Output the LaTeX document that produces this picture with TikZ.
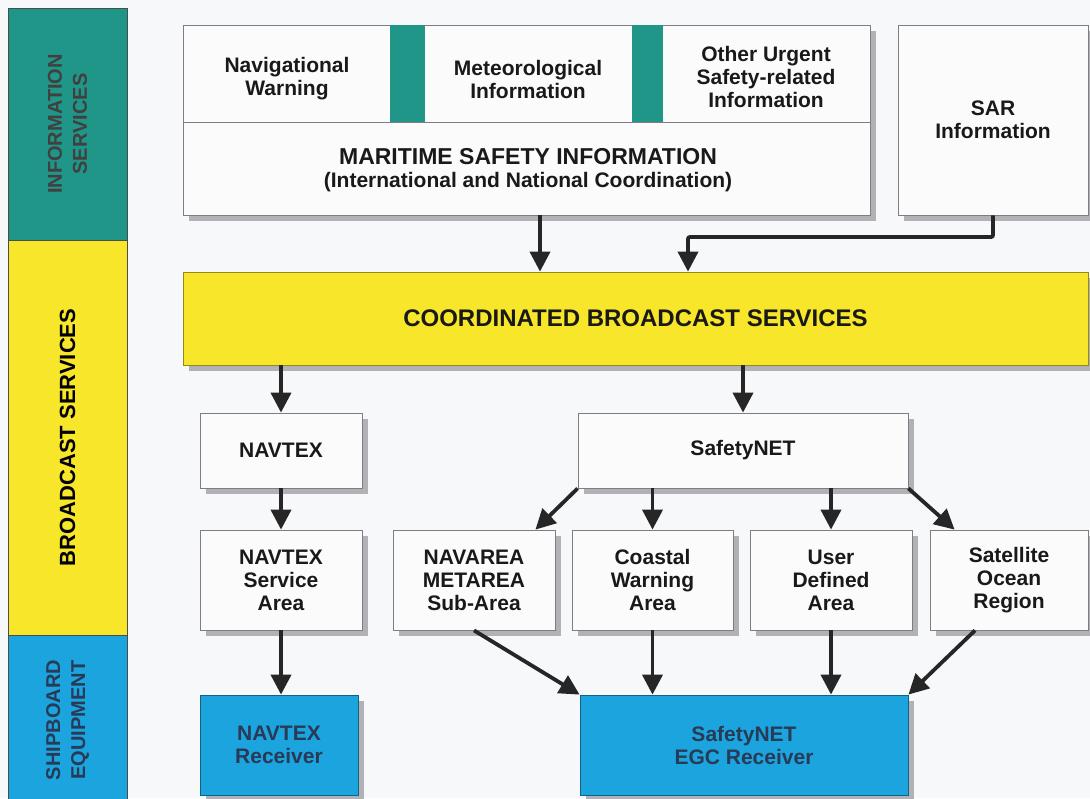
\documentclass[tikz,border=0pt]{standalone}
\usepackage{fontspec}
\setmainfont{Liberation Sans}
\usetikzlibrary{arrows.meta,shadows}

\definecolor{infoteal}{RGB}{32,150,136}
\definecolor{bcyellow}{RGB}{247,230,42}
\definecolor{shipblue}{RGB}{28,164,222}
\definecolor{boxline}{RGB}{125,125,130}
\definecolor{shadegray}{RGB}{178,178,182}
\definecolor{paper}{RGB}{246,248,250}
\definecolor{boxfill}{RGB}{251,251,252}
\definecolor{rxtext}{RGB}{40,58,85}

\tikzset{
  boxsize/.style 2 args={minimum width=#1*0.5pt, minimum height=#2*0.5pt},
  lbl/.style={font=\bfseries\fontsize{10.5}{11.5}\selectfont, align=center, text=black!90},
  box/.style={lbl, draw=boxline, fill=boxfill, inner sep=0pt,
    drop shadow={shadow xshift=3pt, shadow yshift=-3pt, fill=shadegray, opacity=1}},
  rxbox/.style={box, fill=shipblue, draw=shipblue!60!black, text=rxtext},
  band/.style={draw=black!70, inner sep=0pt},
  bandlbl/.style={rotate=90, align=center, font=\bfseries\fontsize{10}{12.5}\selectfont},
  arr/.style={line width=1.9pt, draw=black!85, -{Triangle[length=10pt,width=10pt]}}
}

\begin{document}
\begin{tikzpicture}[x=0.5pt, y=-0.5pt]
  \useasboundingbox[fill=paper] (0,0) rectangle (1090,798);

  % left bands
  \node[band, fill=infoteal, boxsize={119}{232}] (infoband) at (67.5,124) {};
  \node[band, fill=bcyellow, boxsize={119}{395}] (bcband) at (67.5,437.5) {};
  \node[band, fill=shipblue, boxsize={119}{170}] (shipband) at (67.5,720) {};
  \node[bandlbl, text=black!75] at (infoband) {INFORMATION\\SERVICES};
  \node[bandlbl, font=\bfseries\fontsize{11}{13}\selectfont] at (bcband) {BROADCAST SERVICES};
  \node[bandlbl, text=rxtext] at (shipband) {SHIPBOARD\\EQUIPMENT};

  % information services
  \node[box, boxsize={687}{190}] (msi) at (526.5,120) {};
  \fill[infoteal] (390,25) rectangle (425,122);
  \fill[infoteal] (632,25) rectangle (663,122);
  \draw[boxline] (183,122) -- (870,122);
  \node[lbl] (navwarn) at (287,79) {Navigational\\Warning};
  \node[lbl] (metinfo) at (528,79) {Meteorological\\Information};
  \node[lbl] (otherinfo) at (766,77) {Other Urgent\\Safety-related\\Information};
  \node[lbl, align=center] (msitext) at (528,170)
    {{\fontsize{11.5}{13}\selectfont MARITIME SAFETY INFORMATION}\\
     (International and National Coordination)};
  \node[box, boxsize={190}{190}] (sar) at (993,120) {SAR\\Information};

  % broadcast services
  \node[box, fill=bcyellow, draw=bcyellow!60!black, boxsize={905}{93},
        font=\bfseries\fontsize{12}{14}\selectfont] (cbs) at (635.5,318.5)
    {COORDINATED BROADCAST SERVICES};
  \node[box, boxsize={162}{75}] (navtex) at (281,450.5) {NAVTEX};
  \node[box, boxsize={330}{75}] (snet) at (743,450.5) {SafetyNET};
  \node[box, boxsize={162}{100}] (nsa) at (281,580) {NAVTEX\\Service\\Area};
  \node[box, boxsize={162}{100}] (navarea) at (474,580) {NAVAREA\\METAREA\\Sub-Area};
  \node[box, boxsize={161}{100}] (coastal) at (652.5,580) {Coastal\\Warning\\Area};
  \node[box, boxsize={162}{100}] (userarea) at (831,580) {User\\Defined\\Area};
  \node[box, boxsize={158}{100}] (satregion) at (1009,580) {Satellite\\Ocean\\Region};

  % shipboard equipment
  \node[rxbox, boxsize={158}{100}] (navrx) at (279,745) {NAVTEX\\Receiver};
  \node[rxbox, boxsize={328}{100}] (egcrx) at (744,745) {SafetyNET\\EGC Receiver};

  % connectors
  \coordinate (msiout) at (540,215);
  \coordinate (sarbend) at (688,237);
  \draw[arr] (msiout) -- (msiout |- cbs.north);
  \draw[arr, rounded corners=1pt] (sar.south) |- (sarbend) -- (sarbend |- cbs.north);
  \draw[arr] (navtex.north |- cbs.south) -- (navtex.north);
  \draw[arr] (snet.north |- cbs.south) -- (snet.north);
  \draw[arr] (navtex) -- (nsa);
  \draw[arr] (nsa.south) -- (nsa.south |- navrx.north);
  \draw[arr] (snet.south west) -- ([xshift=-10pt]navarea.north east);
  \draw[arr] (coastal.north |- snet.south) -- (coastal.north);
  \draw[arr] (userarea.north |- snet.south) -- (userarea.north);
  \draw[arr] (snet.south east) -- ([xshift=12.5pt]satregion.north west);
  \draw[arr] (navarea.south) -- (egcrx.north west);
  \draw[arr] (coastal.south) -- (coastal.south |- egcrx.north);
  \draw[arr] (userarea.south) -- (userarea.south |- egcrx.north);
  \draw[arr] ([xshift=-17pt]satregion.south) -- (egcrx.north east);
\end{tikzpicture}
\end{document}
